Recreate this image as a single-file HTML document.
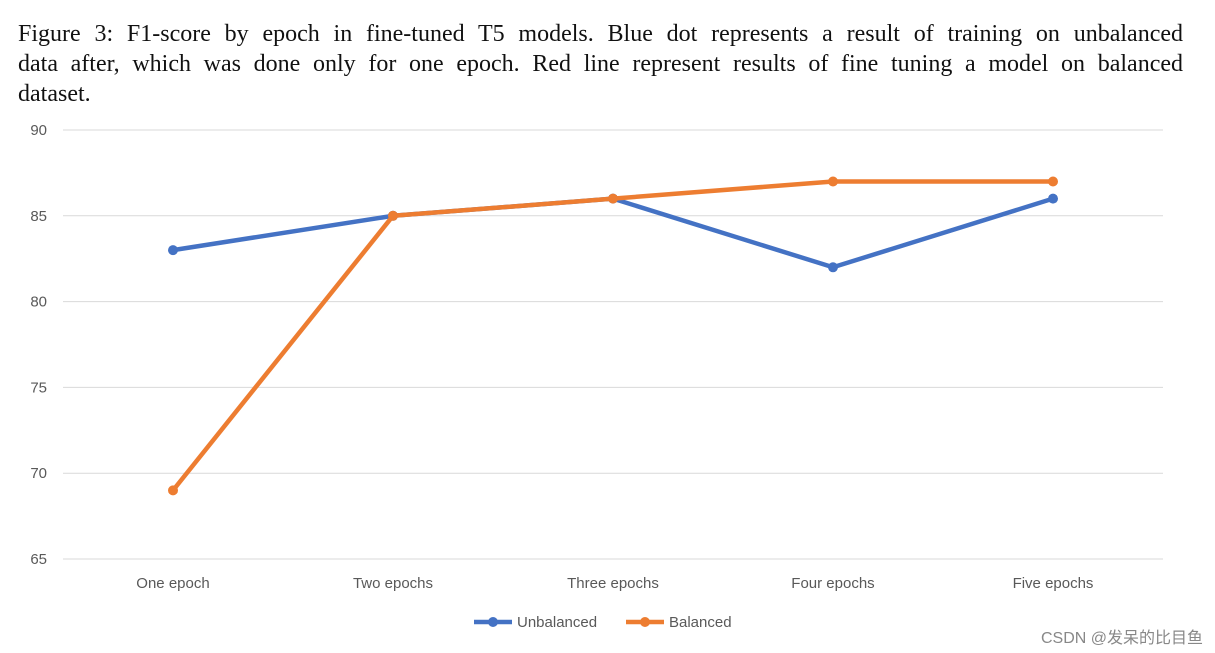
<!DOCTYPE html>
<html><head><meta charset="utf-8"><style>
body{margin:0;background:#fff;width:1215px;height:653px;overflow:hidden;position:relative;font-family:"Liberation Sans",sans-serif}
#cap{position:absolute;left:18px;top:19px;width:1165px;font-family:"Liberation Serif",serif;font-size:24px;line-height:30px;color:#111}
#cap div{white-space:nowrap}
#cap .j{text-align:justify;text-align-last:justify;white-space:normal}
svg{position:absolute;left:0;top:0}
#wm{position:absolute;right:12px;top:624px;font-size:16px;color:#888;font-family:"Liberation Sans","Noto Sans CJK SC",sans-serif}
</style></head><body>
<div id="cap">
<div class="j">Figure 3: F1-score by epoch in fine-tuned T5 models. Blue dot represents a result of training on unbalanced</div>
<div class="j">data after, which was done only for one epoch. Red line represent results of fine tuning a model on balanced</div>
<div>dataset.</div>
</div>
<svg id="chart" width="1215" height="653"></svg>
<div id="wm">CSDN @发呆的比目鱼</div>
<script>
const categories=["One epoch","Two epochs","Three epochs","Four epochs","Five epochs"];
const unbalanced=[83,85,86,82,86];
const balanced=[69,85,86,87,87];
const yTicks=[65,70,75,80,85,90];
const svg=document.getElementById('chart');
const NS='http://www.w3.org/2000/svg';
const x0=63,x1=1163,yTop=130,yBot=559,yMin=65,yMax=90;
const xs=i=>x0+(x1-x0)/categories.length*(i+0.5);
const ys=v=>yBot-(v-yMin)/(yMax-yMin)*(yBot-yTop);
function mk(t,a){const e=document.createElementNS(NS,t);for(const k in a)e.setAttribute(k,a[k]);svg.appendChild(e);return e;}
yTicks.forEach(v=>{
 const l=mk('line',{x1:x0,x2:x1,y1:ys(v),y2:ys(v),stroke:'#d9d9d9','stroke-width':1});
 
 
 const t=mk('text',{x:47,y:ys(v)+5,'text-anchor':'end','font-size':15,fill:'#595959'});
 t.textContent=v;
 
 
});
categories.forEach((c,i)=>{
 const t=mk('text',{x:xs(i),y:588,'text-anchor':'middle','font-size':15,fill:'#595959'});
 t.textContent=c;
 
 
});
function series(vals,color,name){
 const p=mk('polyline',{points:vals.map((v,i)=>xs(i)+','+ys(v)).join(' '),fill:'none',stroke:color,'stroke-width':4.5,'stroke-linejoin':'round'});
 
 
 vals.forEach((v,i)=>{
  const c=mk('circle',{cx:xs(i),cy:ys(v),r:5,fill:color});
  
  
 });
}
series(unbalanced,'#4472c4','unbalanced');
series(balanced,'#ed7d31','balanced');
function legend(x,color,label,name){
 const l=mk('line',{x1:x,x2:x+38,y1:622,y2:622,stroke:color,'stroke-width':4.5});
 
 
 const c=mk('circle',{cx:x+19,cy:622,r:5,fill:color});
 
 
 const t=mk('text',{x:x+43,y:627,'font-size':15,fill:'#595959'});
 t.textContent=label;
 
 
}
legend(474,'#4472c4','Unbalanced','unbalanced');
legend(626,'#ed7d31','Balanced','balanced');
</script>
</body></html>
